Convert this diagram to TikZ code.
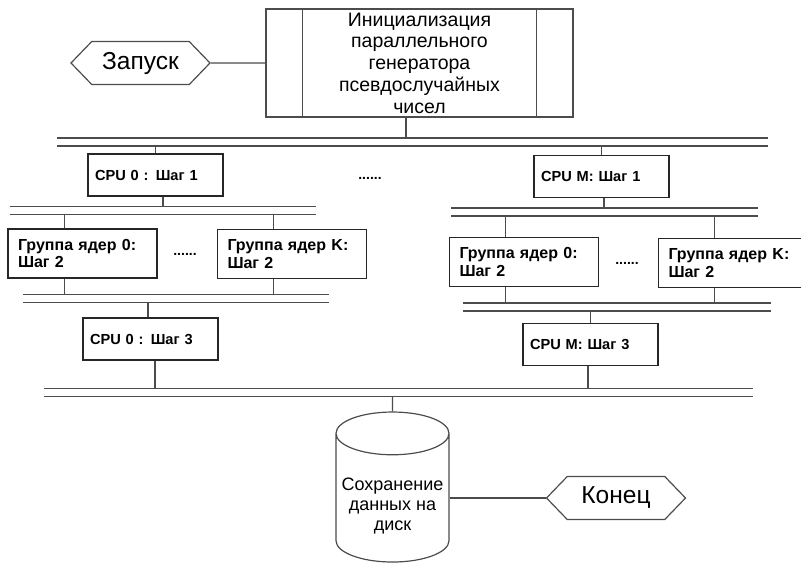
\documentclass[tikz,border=0pt]{standalone}
\usepackage{fontspec}
\setmainfont{Liberation Sans}
\usetikzlibrary{shapes.symbols,shapes.geometric}
\tikzset{%
    blk/.style={draw=black!85,line width=1.8pt,rectangle,inner xsep=7pt,inner ysep=0pt,
        text width=121pt,minimum height=42pt,align=left,
        font=\fontsize{14.6}{17.6}\selectfont\bfseries},
    grp/.style={blk,inner xsep=10pt,text width=129pt,minimum height=49pt,
        font=\fontsize{16}{17.6}\selectfont\bfseries},
    term/.style={draw=black!70,line width=1.2pt,signal,signal to=west and east,
        signal pointer angle=92,minimum width=139pt,minimum height=43pt,inner sep=0pt,
        font=\fontsize{24.5}{28}\selectfont},
    bus/.style={draw=black!70,line width=1.3pt,double=white,double distance=6.7pt},
    lnk/.style={draw=black!70,line width=1.2pt},
    dots/.style={font=\fontsize{14}{14}\selectfont\bfseries}
}

\begin{document}
\begin{tikzpicture}[x=1pt,y=-1pt]
    \path[use as bounding box,clip] (0,0) rectangle (801,563);

    \node[term] (start) at (140.5,63) {Запуск};
    \node[draw=black!70,line width=1.2pt,minimum width=307pt,minimum height=108pt,inner sep=0pt,
        text width=200pt,align=center,font=\fontsize{19.5}{21.7}\selectfont] (init) at (419.5,63)
        {Инициализация\\ параллельного\\ генератора\\ псевдослучайных\\ чисел};
    \draw[lnk] ([xshift=37pt]init.north west) -- ([xshift=37pt]init.south west);
    \draw[lnk] ([xshift=-37pt]init.north east) -- ([xshift=-37pt]init.south east);

    \node[blk] (cpu0a) at (155.5,175) {CPU 0 : Шаг 1};
    \node[blk] (cpuMa) at (601.5,176.5) {CPU M: Шаг 1};
    \node[dots] (d1) at (370,178) {......};

    \node[grp] (g0a) at (82.5,253.5) {Группа ядер 0:\\ Шаг 2};
    \node[grp] (gKa) at (292,254) {Группа ядер K:\\ Шаг 2};
    \node[dots] (d2) at (185,254) {......};
    \node[grp] (g0b) at (524,262) {Группа ядер 0:\\ Шаг 2};
    \node[grp] (gKb) at (733,263) {Группа ядер K:\\ Шаг 2};
    \node[dots] (d3) at (627,263) {......};

    \node[blk] (cpu0c) at (150.5,339) {CPU 0 : Шаг 3};
    \node[blk] (cpuMc) at (590.5,344.5) {CPU M: Шаг 3};

    \node[cylinder,shape border rotate=90,draw=black!70,line width=1.2pt,aspect=0.42,
        minimum width=113pt,minimum height=150pt,inner sep=0pt,
        font=\fontsize{18}{20}\selectfont] (disk) at (392.5,498)
        {\raisebox{-8pt}[\height][\depth]{\begin{tabular}{@{}c@{}}Сохранение\\ данных на\\ диск\end{tabular}}};
    \node[term] (stop) at (616,498) {Конец};

    % buses
    \coordinate (b1w) at (57,142);    \coordinate (b1e) at (768,142);
    \coordinate (b2w) at (10,210.5);  \coordinate (b2e) at (316,210.5);
    \coordinate (b3w) at (23,298.5);  \coordinate (b3e) at (329,298.5);
    \coordinate (b4w) at (44,392.5);  \coordinate (b4e) at (753,392.5);
    \coordinate (b5w) at (451,212);   \coordinate (b5e) at (758,212);
    \coordinate (b6w) at (463,307);   \coordinate (b6e) at (771,307);

    \draw[lnk] (start) -- (init);
    \coordinate (i1) at ([xshift=-13.5pt]init.south);
    \draw[lnk] (i1) -- (i1 |- b1w);

    \draw[lnk] (cpu0a) -- (cpu0a |- b1w);
    \coordinate (c1) at ([xshift=7.5pt]cpu0a.south);
    \draw[lnk] (c1) -- (c1 |- b2w);
    \draw[lnk] (cpuMa) -- (cpuMa |- b1w);
    \coordinate (c2) at ([xshift=2.5pt]cpuMa.south);
    \draw[lnk] (c2) -- (c2 |- b5w);

    \foreach \g/\up/\dn in {g0a/b2w/b3w, gKa/b2w/b3w, g0b/b5w/b6w, gKb/b5w/b6w}{
        \coordinate (t) at ([xshift=57pt]\g.north west);
        \draw[lnk] (t) -- (t |- \up);
        \coordinate (t) at ([xshift=57pt]\g.south west);
        \draw[lnk] (t) -- (t |- \dn);
    }

    \coordinate (c3) at ([xshift=-2.5pt]cpu0c.north);
    \draw[lnk] (c3) -- (c3 |- b3w);
    \coordinate (c4) at ([xshift=4.5pt]cpu0c.south);
    \draw[lnk,line width=2.4pt] (c4) -- (c4 |- b4w);
    \draw[lnk] (cpuMc) -- (cpuMc |- b6w);
    \coordinate (c5) at ([xshift=-2.5pt]cpuMc.south);
    \draw[lnk,line width=2.4pt] (c5) -- (c5 |- b4w);

    \draw[lnk] (disk) -- (disk |- b4w);
    \draw[lnk] (stop.west) -- (stop.west -| disk.east);

    \draw[bus] (b1w) -- (b1e);
    \draw[bus] (b2w) -- (b2e);
    \draw[bus] (b3w) -- (b3e);
    \draw[bus] (b4w) -- (b4e);
    \draw[bus] (b5w) -- (b5e);
    \draw[bus] (b6w) -- (b6e);
\end{tikzpicture}
\end{document}
